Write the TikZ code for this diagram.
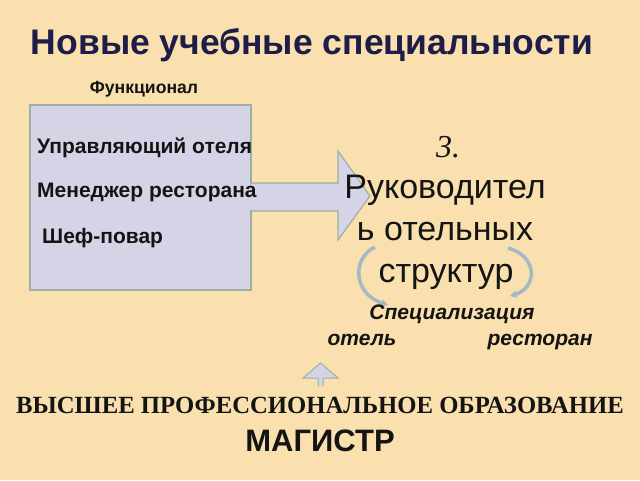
\documentclass[tikz,border=0pt]{standalone}
\usepackage{fontspec}
\setmainfont{Liberation Serif}
\setsansfont{Liberation Sans}
\usetikzlibrary{arrows.meta}
\definecolor{bg}{HTML}{F9E0AE}
\definecolor{boxfill}{HTML}{D5D3E6}
\definecolor{boxline}{HTML}{9AAFA8}
\definecolor{titlec}{HTML}{1E1C48}
\definecolor{ink}{HTML}{141414}
\definecolor{curvec}{HTML}{A3BAC3}
\tikzset{
  txt/.style={text=ink, inner sep=0pt, anchor=base, font=\sffamily\bfseries},
  lefttxt/.style={text=ink, inner sep=0pt, anchor=base west, font=\sffamily\bfseries\fontsize{21}{23}\selectfont},
  bigtxt/.style={text=ink, inner sep=0pt, anchor=base, font=\sffamily\fontsize{34}{36}\selectfont},
  ittxt/.style={text=ink, inner sep=0pt, anchor=base, font=\sffamily\bfseries\itshape\fontsize{21}{23}\selectfont},
  curvearrow/.style={draw=curvec, line width=3.5pt, -{Stealth[length=7pt,width=8pt]}},
  shapebox/.style={fill=boxfill, draw=boxline, line width=1.2pt}
}
\begin{document}
\begin{tikzpicture}[x=1pt,y=-1pt]
\fill[bg] (0,0) rectangle (640,480);
\useasboundingbox (0,0) rectangle (640,480);
% title
\node[text=titlec, inner sep=0pt, anchor=base, font=\sffamily\bfseries\fontsize{35.5}{38}\selectfont] (title) at (312,54) {Новые учебные специальности};
\node[txt, font=\sffamily\bfseries\fontsize{17.6}{19}\selectfont] (func) at (144,93) {Функционал};
% box
\draw[shapebox] (30,105) rectangle (251,290);
% arrow
\draw[shapebox] (251,183) -- (338,183) -- (338,151) -- (370,196) -- (338,240) -- (338,211) -- (251,211);
\fill[boxfill] (249,184.5) rectangle (253,209.5);
\node[lefttxt] (r1) at (37,153) {Управляющий отеля};
\node[lefttxt] (r2) at (37,197) {Менеджер ресторана};
\node[lefttxt] (r3) at (42,243) {Шеф-повар};
% right text
\node[text=ink, inner sep=0pt, anchor=base, font=\rmfamily\itshape\fontsize{32}{34}\selectfont] (num) at (448,157) {3.};
\node[bigtxt] (l1) at (445,198) {Руководител};
\node[bigtxt] (l2) at (445,240) {ь отельных};
\node[bigtxt] (l3) at (446,282) {структур};
% curved arrows
\coordinate (ca1) at (375,247);
\coordinate (ca2) at (388,305);
\coordinate (cb1) at (508,248);
\coordinate (cb2) at (510,296);
\draw[curvearrow] (ca1) .. controls (352,258) and (352,294) .. (ca2);
\draw[curvearrow] (cb1) .. controls (538,256) and (538,288) .. (cb2);
\node[ittxt] (spec) at (452,319) {Специализация};
\node[ittxt] (hotel) at (362,345) {отель};
\node[ittxt] (rest) at (540,345) {ресторан};
% up arrow
\draw[shapebox, line width=1pt] (318,386) -- (318,378) -- (303,378) -- (320.5,363) -- (338,378) -- (323,378) -- (323,386);
\node[text=ink, inner sep=0pt, anchor=base, font=\rmfamily\bfseries\fontsize{24.7}{26}\selectfont] (edu) at (320,413) {ВЫСШЕЕ ПРОФЕССИОНАЛЬНОЕ ОБРАЗОВАНИЕ};
\node[txt, font=\sffamily\bfseries\fontsize{31}{33}\selectfont] (mag) at (320,451) {МАГИСТР};
\end{tikzpicture}
\end{document}
